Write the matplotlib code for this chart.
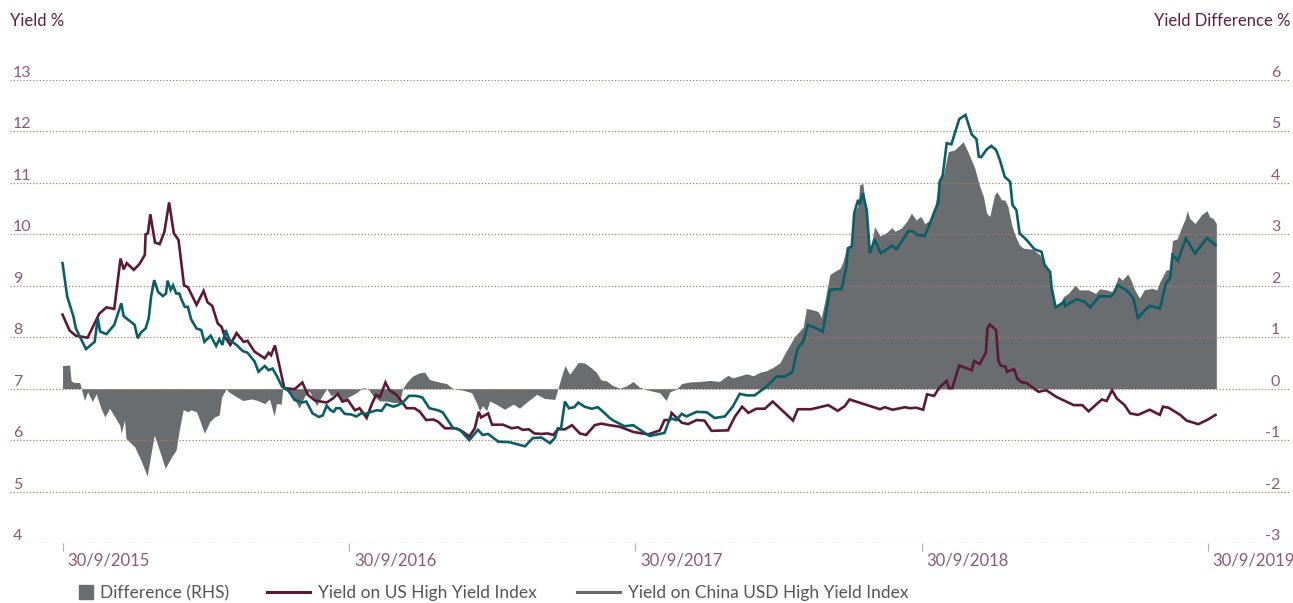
import matplotlib
matplotlib.use("Agg")
import matplotlib.pyplot as plt
import matplotlib.dates as mdates
import matplotlib.transforms as mtransforms
from matplotlib.lines import Line2D
import pandas as pd

plt.rcParams['font.family'] = ['Lato', 'DejaVu Sans']

# ---------------- data ----------------
us_dates = ["2015-09-30","2015-10-09","2015-10-17","2015-11-01","2015-11-16","2015-11-25","2015-12-05","2015-12-13","2015-12-17","2015-12-21",
"2015-12-30","2016-01-06","2016-01-13","2016-01-14","2016-01-17","2016-01-20","2016-01-26","2016-02-01","2016-02-07","2016-02-13",
"2016-02-19","2016-02-25","2016-03-03","2016-03-08","2016-03-19","2016-03-28","2016-04-02","2016-04-08","2016-04-15","2016-04-20",
"2016-04-24","2016-05-01","2016-05-09","2016-05-18","2016-05-23","2016-06-01","2016-06-14","2016-06-19","2016-06-22","2016-06-27",
"2016-07-09","2016-07-22","2016-08-01","2016-08-08","2016-08-17","2016-09-01","2016-09-09","2016-09-15","2016-09-21","2016-09-28",
"2016-10-07","2016-10-13","2016-10-22","2016-10-28","2016-11-03","2016-11-08","2016-11-15","2016-11-20","2016-11-29","2016-12-12",
"2016-12-22","2016-12-29","2017-01-06","2017-01-15","2017-01-21","2017-01-30","2017-02-13","2017-02-22","2017-03-02","2017-03-09",
"2017-03-14","2017-03-17","2017-03-26","2017-03-31","2017-04-14","2017-04-25","2017-05-03","2017-05-09","2017-05-17","2017-05-24",
"2017-06-02","2017-06-10","2017-06-17","2017-06-23","2017-07-02","2017-07-11","2017-07-21","2017-07-29","2017-08-09","2017-08-17",
"2017-08-28","2017-09-10","2017-09-27","2017-10-16","2017-10-31","2017-11-06","2017-11-13","2017-11-15","2017-11-28","2017-12-06",
"2017-12-17","2017-12-27","2018-01-05","2018-01-26","2018-02-04","2018-02-13","2018-02-21","2018-03-03","2018-03-14","2018-03-24",
"2018-04-19","2018-04-25","2018-05-12","2018-06-03","2018-06-15","2018-06-24","2018-06-30","2018-08-08","2018-08-14","2018-08-24",
"2018-09-09","2018-09-15","2018-09-23","2018-10-02","2018-10-07","2018-10-16","2018-10-23","2018-11-01","2018-11-04","2018-11-08",
"2018-11-17","2018-12-03","2018-12-06","2018-12-13","2018-12-21","2018-12-23","2018-12-26","2019-01-03","2019-01-06","2019-01-09",
"2019-01-15","2019-01-17","2019-01-26","2019-01-30","2019-02-04","2019-02-11","2019-02-26","2019-03-08","2019-03-21","2019-04-12",
"2019-04-23","2019-05-01","2019-05-18","2019-05-24","2019-05-31","2019-06-06","2019-06-16","2019-06-23","2019-07-03","2019-07-18",
"2019-07-31","2019-08-04","2019-08-11","2019-08-26","2019-09-03","2019-09-18","2019-09-29","2019-10-10"]
us_yield = [8.44,8.13,8.03,7.99,8.46,8.58,8.55,9.53,9.32,9.44,
9.31,9.42,9.60,10.00,10.02,10.39,9.84,9.81,10.05,10.62,
10.02,9.89,9.01,8.97,8.63,8.90,8.68,8.61,8.27,8.20,
8.01,7.85,8.08,7.91,7.93,7.72,7.59,7.70,7.65,7.84,
7.01,6.99,7.12,6.88,6.77,6.73,6.81,6.90,6.75,6.78,
6.58,6.62,6.43,6.68,6.88,6.84,7.12,6.97,6.88,6.62,
6.62,6.55,6.39,6.40,6.36,6.23,6.23,6.16,6.07,6.23,
6.55,6.44,6.52,6.30,6.30,6.23,6.25,6.20,6.21,6.13,
6.12,6.13,6.10,6.21,6.21,6.29,6.13,6.10,6.29,6.32,
6.29,6.26,6.16,6.11,6.19,6.39,6.39,6.53,6.34,6.31,
6.39,6.38,6.18,6.19,6.46,6.65,6.53,6.61,6.61,6.75,
6.38,6.60,6.60,6.68,6.57,6.66,6.79,6.60,6.64,6.59,
6.64,6.62,6.63,6.59,6.89,6.86,7.03,7.15,7.01,7.01,
7.45,7.36,7.54,7.48,7.70,8.17,8.25,8.14,7.54,7.45,
7.43,7.33,7.38,7.20,7.13,7.11,6.94,6.97,6.84,6.68,
6.68,6.56,6.79,6.76,6.97,6.81,6.68,6.52,6.49,6.59,
6.49,6.65,6.63,6.49,6.38,6.31,6.39,6.49]

china_dates = ["2015-09-30","2015-10-06","2015-10-14","2015-10-17","2015-10-30","2015-11-10","2015-11-14","2015-11-17","2015-11-25","2015-12-05",
"2015-12-14","2015-12-17","2015-12-31","2016-01-04","2016-01-08","2016-01-14","2016-01-18","2016-01-21","2016-01-25","2016-01-30",
"2016-02-05","2016-02-09","2016-02-11","2016-02-15","2016-02-18","2016-02-22","2016-02-26","2016-02-28","2016-03-04","2016-03-08",
"2016-03-12","2016-03-19","2016-03-25","2016-03-29","2016-04-06","2016-04-13","2016-04-17","2016-04-21","2016-04-25","2016-04-30",
"2016-05-09","2016-05-17","2016-05-23","2016-06-01","2016-06-06","2016-06-14","2016-06-19","2016-06-24","2016-06-30","2016-07-06",
"2016-07-14","2016-07-22","2016-07-31","2016-08-06","2016-08-14","2016-08-22","2016-08-27","2016-09-01","2016-09-06","2016-09-10",
"2016-09-13","2016-09-18","2016-09-24","2016-10-02","2016-10-09","2016-10-15","2016-10-21","2016-10-28","2016-11-04","2016-11-10",
"2016-11-16","2016-11-25","2016-12-01","2016-12-07","2016-12-15","2016-12-24","2017-01-01","2017-01-10","2017-01-21","2017-01-27",
"2017-02-03","2017-02-09","2017-02-18","2017-03-02","2017-03-13","2017-03-19","2017-03-26","2017-04-08","2017-04-22","2017-05-12",
"2017-05-22","2017-06-02","2017-06-13","2017-06-19","2017-06-23","2017-06-27","2017-07-02","2017-07-07","2017-07-14","2017-07-19",
"2017-07-27","2017-08-05","2017-08-13","2017-08-22","2017-08-28","2017-09-03","2017-09-16","2017-09-27","2017-10-10","2017-10-18",
"2017-11-06","2017-11-13","2017-11-21","2017-11-28","2017-12-04","2017-12-17","2017-12-30","2018-01-09","2018-01-22","2018-02-01",
"2018-02-10","2018-02-19","2018-03-01","2018-03-16","2018-03-29","2018-04-08","2018-04-18","2018-04-25","2018-05-02","2018-05-08",
"2018-05-19","2018-05-27","2018-06-05","2018-06-20","2018-06-26","2018-06-28","2018-07-03","2018-07-06","2018-07-11","2018-07-13",
"2018-07-17","2018-07-22","2018-07-26","2018-08-01","2018-08-09","2018-08-23","2018-08-29","2018-09-13","2018-09-19","2018-09-24",
"2018-10-04","2018-10-10","2018-10-17","2018-10-21","2018-10-23","2018-10-27","2018-11-01","2018-11-07","2018-11-17","2018-11-25",
"2018-12-03","2018-12-09","2018-12-12","2018-12-15","2018-12-22","2018-12-28","2019-01-03","2019-01-08","2019-01-14","2019-01-21",
"2019-01-24","2019-01-29","2019-02-02","2019-02-11","2019-02-21","2019-03-02","2019-03-06","2019-03-13","2019-03-15","2019-03-20",
"2019-03-28","2019-03-31","2019-04-01","2019-04-16","2019-04-26","2019-05-03","2019-05-15","2019-05-28","2019-06-01","2019-06-07",
"2019-06-18","2019-06-27","2019-07-03","2019-07-12","2019-07-18","2019-07-31","2019-08-08","2019-08-13","2019-08-16","2019-08-23",
"2019-09-02","2019-09-14","2019-09-29","2019-10-10"]
china_yield = [9.44,8.79,8.40,8.17,7.77,7.91,8.37,8.11,8.06,8.24,
8.66,8.41,8.24,7.98,8.09,8.17,8.37,8.79,9.11,8.88,
8.80,8.85,9.10,8.92,9.01,8.85,8.85,8.76,8.59,8.59,
8.35,8.17,8.14,7.91,8.03,7.83,7.96,7.85,8.14,7.95,
7.85,7.73,7.70,7.53,7.33,7.44,7.36,7.39,7.23,7.04,
6.97,6.78,6.73,6.75,6.52,6.45,6.48,6.67,6.58,6.55,
6.62,6.62,6.51,6.50,6.46,6.52,6.51,6.55,6.58,6.57,
6.70,6.65,6.68,6.73,6.86,6.86,6.83,6.62,6.58,6.54,
6.38,6.24,6.20,6.00,6.20,6.10,6.12,5.97,5.96,5.88,
6.04,6.05,5.94,6.04,6.23,6.23,6.75,6.62,6.64,6.73,
6.65,6.61,6.64,6.52,6.43,6.37,6.27,6.29,6.16,6.08,
6.14,6.43,6.39,6.51,6.46,6.55,6.54,6.43,6.46,6.65,
6.90,6.87,6.87,7.04,7.24,7.23,7.32,7.79,7.92,8.24,
8.17,8.11,8.92,8.94,9.37,9.73,9.77,10.41,10.67,10.58,
10.80,10.47,9.63,9.90,9.63,9.78,9.71,10.06,10.06,9.99,
9.97,10.18,10.47,10.60,11.02,11.15,11.77,11.75,12.24,12.32,
11.94,11.85,11.51,11.50,11.65,11.72,11.64,11.44,11.12,11.02,
10.57,10.47,10.02,9.89,9.71,9.66,9.40,9.27,8.95,8.58,
8.66,8.70,8.61,8.74,8.69,8.58,8.80,8.79,8.83,9.01,
8.92,8.76,8.37,8.53,8.61,8.56,9.06,9.14,9.60,9.49,
9.92,9.63,9.93,9.79]

diff_dates = ["2015-09-30","2015-10-09","2015-10-11","2015-10-15","2015-10-22","2015-10-24","2015-10-28","2015-11-01","2015-11-07","2015-11-12",
"2015-11-18","2015-11-23","2015-11-29","2015-12-12","2015-12-14","2015-12-18","2015-12-20","2015-12-31","2016-01-08","2016-01-16",
"2016-01-25","2016-02-02","2016-02-08","2016-02-16","2016-02-22","2016-02-26","2016-03-02","2016-03-08","2016-03-12","2016-03-19",
"2016-03-23","2016-03-29","2016-04-05","2016-04-11","2016-04-17","2016-04-20","2016-04-26","2016-04-28","2016-05-07","2016-05-17",
"2016-05-28","2016-06-05","2016-06-14","2016-06-20","2016-06-26","2016-06-29","2016-07-05","2016-07-07","2016-07-14","2016-07-22",
"2016-07-28","2016-08-04","2016-08-10","2016-08-19","2016-08-25","2016-09-01","2016-09-07","2016-09-13","2016-09-22","2016-09-28",
"2016-10-09","2016-10-17","2016-10-24","2016-10-30","2016-11-08","2016-11-16","2016-11-25","2016-12-03","2016-12-07","2016-12-12",
"2016-12-20","2016-12-29","2017-01-04","2017-01-10","2017-01-17","2017-01-25","2017-02-01","2017-02-09","2017-02-22","2017-03-05",
"2017-03-11","2017-03-15","2017-03-19","2017-03-24","2017-03-28","2017-04-05","2017-04-16","2017-04-27","2017-05-05","2017-05-16",
"2017-05-27","2017-06-06","2017-06-19","2017-06-23","2017-06-27","2017-07-02","2017-07-08","2017-07-19","2017-07-27","2017-08-05",
"2017-08-11","2017-08-17","2017-08-24","2017-09-01","2017-09-10","2017-09-18","2017-09-27","2017-10-05","2017-10-14","2017-10-22",
"2017-10-31","2017-11-08","2017-11-13","2017-11-21","2017-11-28","2017-12-08","2017-12-21","2018-01-03","2018-01-15","2018-01-26",
"2018-02-01","2018-02-10","2018-02-19","2018-02-27","2018-03-08","2018-03-16","2018-03-24","2018-04-02","2018-04-11","2018-04-21",
"2018-05-02","2018-05-06","2018-05-15","2018-05-21","2018-05-25","2018-05-29","2018-06-05","2018-06-11","2018-06-18","2018-06-22",
"2018-06-26","2018-07-03","2018-07-05","2018-07-11","2018-07-13","2018-07-17","2018-07-21","2018-07-26","2018-08-01","2018-08-08",
"2018-08-16","2018-08-23","2018-08-27","2018-09-04","2018-09-11","2018-09-17","2018-09-23","2018-09-29","2018-10-04","2018-10-10",
"2018-10-17","2018-10-23","2018-10-28","2018-11-03","2018-11-11","2018-11-22","2018-11-28","2018-12-07","2018-12-12","2018-12-18",
"2018-12-22","2018-12-26","2019-01-01","2019-01-04","2019-01-10","2019-01-14","2019-01-18","2019-01-23","2019-01-27","2019-02-02",
"2019-02-07","2019-02-19","2019-02-28","2019-03-06","2019-03-11","2019-03-17","2019-03-20","2019-03-25","2019-03-30","2019-04-05",
"2019-04-14","2019-04-19","2019-05-01","2019-05-10","2019-05-15","2019-05-24","2019-06-01","2019-06-08","2019-06-13","2019-06-20",
"2019-06-25","2019-06-29","2019-07-05","2019-07-11","2019-07-21","2019-07-27","2019-07-31","2019-08-08","2019-08-13","2019-08-16",
"2019-08-22","2019-08-28","2019-09-01","2019-09-04","2019-09-07","2019-09-14","2019-09-22","2019-09-29","2019-10-03","2019-10-07",
"2019-10-11"]
diff_values = [0.45,0.46,0.15,0.12,0.12,0.00,-0.23,-0.06,-0.25,-0.10,
-0.38,-0.55,-0.38,-0.71,-0.87,-0.61,-0.97,-1.13,-1.39,-1.70,
-0.90,-1.26,-1.55,-1.33,-1.19,-0.80,-0.41,-0.45,-0.41,-0.45,
-0.61,-0.87,-0.64,-0.55,-0.51,-0.16,0.00,-0.05,-0.14,-0.23,
-0.20,-0.23,-0.29,-0.20,-0.53,-0.29,-0.30,0.00,-0.07,-0.20,
-0.38,-0.14,-0.05,-0.33,-0.17,0.00,-0.14,-0.08,-0.27,-0.17,
-0.08,0.02,0.00,-0.14,-0.24,-0.24,-0.27,-0.27,0.00,0.12,
0.25,0.31,0.32,0.18,0.15,0.12,0.10,0.00,-0.03,-0.08,
-0.27,-0.43,-0.33,-0.43,-0.24,-0.30,-0.40,-0.30,-0.38,-0.24,
-0.11,-0.19,-0.21,0.00,0.21,0.45,0.28,0.51,0.50,0.40,
0.32,0.17,0.15,0.06,0.01,0.05,0.14,0.03,-0.02,-0.05,
-0.08,-0.23,-0.06,-0.01,0.10,0.13,0.14,0.16,0.14,0.26,
0.21,0.25,0.29,0.25,0.32,0.35,0.41,0.50,0.75,1.01,
1.20,1.56,1.53,1.50,1.38,1.66,2.22,2.28,2.34,2.48,
2.73,2.79,3.37,3.57,3.96,3.99,3.50,2.63,3.15,2.97,
3.03,3.13,3.06,3.12,3.25,3.41,3.28,3.35,3.21,3.27,
3.55,4.06,4.16,4.61,4.64,4.80,4.61,4.28,3.99,3.73,
3.41,3.35,3.76,3.83,3.67,3.67,3.55,3.18,2.99,2.79,
2.73,2.71,2.60,2.40,2.27,1.88,1.59,1.62,1.79,1.85,
2.01,1.92,1.92,1.85,1.94,1.92,1.88,2.18,2.11,2.23,
2.08,1.92,1.76,1.92,1.95,1.92,2.08,2.31,2.31,2.88,
2.91,3.15,3.29,3.46,3.31,3.21,3.38,3.46,3.33,3.31,
3.21]

left_ticks = [4, 5, 6, 7, 8, 9, 10, 11, 12, 13]
right_ticks = [-3, -2, -1, 0, 1, 2, 3, 4, 5, 6]
x_tick_dates = ["2015-09-30", "2016-09-30", "2017-09-30", "2018-09-30", "2019-09-30"]
x_tick_labels = ["30/9/2015", "30/9/2016", "30/9/2017", "30/9/2018", "30/9/2019"]
x_limits = ["2015-07-25", "2020-01-13"]

# ---------------- style ----------------
C_US = "#5a1a36"
C_CN = "#0b5e68"
C_FILL = "#6a6d70"
C_TICK = "#8a5a72"
C_TITLE = "#5c1f3d"
C_GRID = "#a8826c"
C_LEG = "#555555"

W, H = 1293, 603
fig = plt.figure(figsize=(W / 100, H / 100), dpi=100)
ax = fig.add_axes([10 / W, 1 - 543 / H, 1280 / W, 463 / H])
ax2 = ax.twinx()

us_d = pd.to_datetime(us_dates)
cn_d = pd.to_datetime(china_dates)
df_d = pd.to_datetime(diff_dates)

# difference on the right axis
ax2.fill_between(df_d, 0, diff_values, color=C_FILL, linewidth=0, zorder=1)
ax2.set_ylim(-3, 6)

# yields on the left axis, drawn above the fill
ax.set_zorder(ax2.get_zorder() + 1)
ax.patch.set_visible(False)
ax.plot(us_d, us_yield, color=C_US, linewidth=1.9, solid_joinstyle='miter', zorder=3)
ax.plot(cn_d, china_yield, color=C_CN, linewidth=1.9, solid_joinstyle='miter', zorder=3)
ax.set_ylim(4, 13)
ax.set_xlim(pd.to_datetime(x_limits[0]), pd.to_datetime(x_limits[1]))

# grid lines
for v in left_ticks:
    ax.axhline(v, color=C_GRID, linewidth=0.9, linestyle=(0, (1, 1.6)), zorder=0)

for a in (ax, ax2):
    for s in a.spines.values():
        s.set_visible(False)

# y tick labels sitting above the grid lines
ax.set_yticks(left_ticks)
ax.set_yticklabels([str(v) for v in left_ticks])
ax.tick_params(axis='y', length=0, pad=-2, labelsize=11.5, labelcolor=C_TICK)
for lab in ax.get_yticklabels():
    lab.set_horizontalalignment('left')
    lab.set_verticalalignment('bottom')

ax2.set_yticks(right_ticks)
ax2.set_yticklabels([str(v) for v in right_ticks])
ax2.tick_params(axis='y', length=0, pad=-7, labelsize=11.5, labelcolor=C_TICK)
for lab in ax2.get_yticklabels():
    lab.set_horizontalalignment('right')
    lab.set_verticalalignment('bottom')

# x ticks
ax.set_xticks(pd.to_datetime(x_tick_dates))
ax.set_xticklabels(x_tick_labels)
ax.tick_params(axis='x', length=6, width=0.8, color="#b8a8a8", pad=1,
               labelsize=12, labelcolor=C_TICK)
offset = mtransforms.ScaledTranslation(5 / 100, 0, fig.dpi_scale_trans)
for lab in ax.get_xticklabels():
    lab.set_horizontalalignment('left')
    lab.set_transform(lab.get_transform() + offset)
ax2.tick_params(axis='x', length=0, labelbottom=False)

# axis titles
fig.text(10 / W, 1 - 21 / H, "Yield %", color=C_TITLE, fontsize=12,
         ha='left', va='center')
fig.text(1290 / W, 1 - 21 / H, "Yield Difference %", color=C_TITLE, fontsize=12,
         ha='right', va='center')

# legend
h_diff = Line2D([], [], marker='s', linestyle='none', markersize=10,
                markerfacecolor=C_FILL, markeredgecolor=C_FILL)
leg1 = fig.legend([h_diff], ["Difference (RHS)"], loc='center left',
                  bbox_to_anchor=(77 / W, 1 - 593 / H), frameon=False,
                  fontsize=12.5, handlelength=1.0, handletextpad=0.3,
                  labelcolor=C_LEG, borderaxespad=0, borderpad=0)
h_us = Line2D([], [], color=C_US, linewidth=2.2)
h_cn = Line2D([], [], color="#6a6a6a", linewidth=2.2)
leg2 = fig.legend([h_us, h_cn], ["Yield on US High Yield Index",
                                 "Yield on China USD High Yield Index"],
                  loc='center left', bbox_to_anchor=(267 / W, 1 - 593 / H),
                  frameon=False, fontsize=12.5, ncol=2, handlelength=2.5,
                  handletextpad=0.45, columnspacing=2.3, labelcolor=C_LEG,
                  borderaxespad=0, borderpad=0)

fig.savefig("out.png", dpi=100)
